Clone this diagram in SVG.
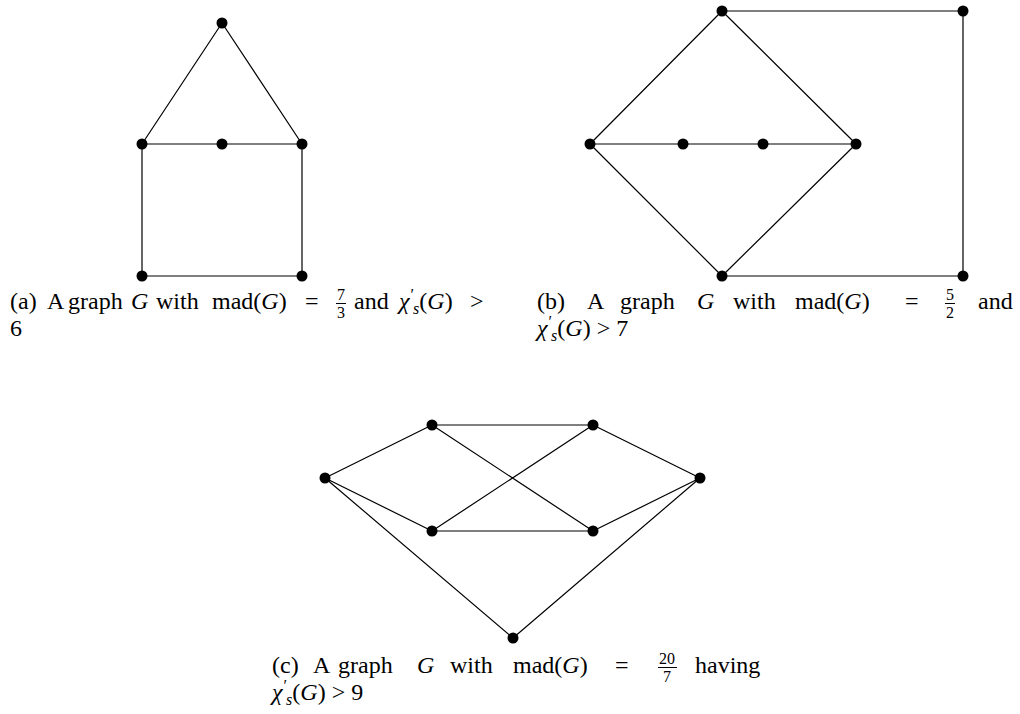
<svg xmlns="http://www.w3.org/2000/svg" width="1020" height="714" viewBox="0 0 1020 714">
<style>
.e{stroke:#000;stroke-width:1.2;fill:none}
.n{fill:#000}
.t{font-family:"Liberation Serif","DejaVu Serif",serif;font-size:24px;fill:#000}
.i{font-style:italic}
.s{font-size:16px}
.fr{stroke:#000;stroke-width:1}
</style>
<rect width="1020" height="714" fill="#fff"/>
<g id="connectors">
<path class="e" d="M222,23L142,144M222,23L302,144M142,144L302,144M142,144L142,276M302,144L302,276M142,276L302,276"/>
<path class="e" d="M722,11L963,11M722,11L590,144M722,11L856,144M963,11L963,276M590,144L856,144M590,144L722,276M856,144L722,276M722,276L963,276"/>
<path class="e" d="M325,478L432,425M325,478L432,531M325,478L513,638M432,425L593,425M432,425L593,531M593,425L432,531M432,531L593,531M593,425L700,478M593,531L700,478M700,478L513,638"/>
</g>
<g id="a-top"><circle class="n" cx="222" cy="23" r="5.5"/></g>
<g id="a-left"><circle class="n" cx="142" cy="144" r="5.5"/></g>
<g id="a-mid"><circle class="n" cx="222" cy="144" r="5.5"/></g>
<g id="a-right"><circle class="n" cx="302" cy="144" r="5.5"/></g>
<g id="a-bl"><circle class="n" cx="142" cy="276" r="5.5"/></g>
<g id="a-br"><circle class="n" cx="302" cy="276" r="5.5"/></g>
<g id="b-top"><circle class="n" cx="722" cy="11" r="5.5"/></g>
<g id="b-tr"><circle class="n" cx="963" cy="11" r="5.5"/></g>
<g id="b-left"><circle class="n" cx="590" cy="144" r="5.5"/></g>
<g id="b-m1"><circle class="n" cx="683" cy="144" r="5.5"/></g>
<g id="b-m2"><circle class="n" cx="763" cy="144" r="5.5"/></g>
<g id="b-right"><circle class="n" cx="856" cy="144" r="5.5"/></g>
<g id="b-bottom"><circle class="n" cx="722" cy="276" r="5.5"/></g>
<g id="b-br"><circle class="n" cx="963" cy="276" r="5.5"/></g>
<g id="c-left"><circle class="n" cx="325" cy="478" r="5.5"/></g>
<g id="c-t1"><circle class="n" cx="432" cy="425" r="5.5"/></g>
<g id="c-t2"><circle class="n" cx="593" cy="425" r="5.5"/></g>
<g id="c-right"><circle class="n" cx="700" cy="478" r="5.5"/></g>
<g id="c-b1"><circle class="n" cx="432" cy="531" r="5.5"/></g>
<g id="c-b2"><circle class="n" cx="593" cy="531" r="5.5"/></g>
<g id="c-bottom"><circle class="n" cx="513" cy="638" r="5.5"/></g>
<g id="caption-a" class="t">
<text x="10" y="309">(a)</text>
<text x="47" y="309">A</text>
<text x="68" y="309">graph</text>
<text x="131" y="309" class="i">G</text>
<text x="156" y="309">with</text>
<text x="212" y="309">mad(<tspan class="i">G</tspan>)</text>
<text x="305" y="309">=</text>
<text x="341" y="300" class="s" text-anchor="middle">7</text>
<line class="fr" x1="336" y1="303.5" x2="346" y2="303.5"/>
<text x="341" y="318" class="s" text-anchor="middle">3</text>
<text x="354" y="309">and</text>
<text x="399" y="309"><tspan class="i">χ</tspan><tspan class="s" dx="1" dy="-9">′</tspan><tspan class="s i" dx="-1" dy="14">s</tspan><tspan dy="-5">(</tspan><tspan class="i">G</tspan>)</text>
<text x="470" y="309">&gt;</text>
<text x="10" y="336">6</text>
</g>
<g id="caption-b" class="t">
<text x="537" y="309">(b)</text>
<text x="587" y="309">A</text>
<text x="620" y="309">graph</text>
<text x="697" y="309" class="i">G</text>
<text x="733" y="309">with</text>
<text x="795" y="309">mad(<tspan class="i">G</tspan>)</text>
<text x="905" y="309">=</text>
<text x="950" y="300" class="s" text-anchor="middle">5</text>
<line class="fr" x1="945" y1="303.5" x2="955" y2="303.5"/>
<text x="950" y="318" class="s" text-anchor="middle">2</text>
<text x="978" y="309">and</text>
<text x="537" y="336"><tspan class="i">χ</tspan><tspan class="s" dx="1" dy="-9">′</tspan><tspan class="s i" dx="-1" dy="14">s</tspan><tspan dy="-5">(</tspan><tspan class="i">G</tspan>) &gt; 7</text>
</g>
<g id="caption-c" class="t">
<text x="272" y="673">(c)</text>
<text x="313" y="673">A</text>
<text x="338" y="673">graph</text>
<text x="417" y="673" class="i">G</text>
<text x="450" y="673">with</text>
<text x="513" y="673">mad(<tspan class="i">G</tspan>)</text>
<text x="615" y="673">=</text>
<text x="667" y="664" class="s" text-anchor="middle">20</text>
<line class="fr" x1="658" y1="667.5" x2="677" y2="667.5"/>
<text x="667" y="682" class="s" text-anchor="middle">7</text>
<text x="695" y="673">having</text>
<text x="272" y="700"><tspan class="i">χ</tspan><tspan class="s" dx="1" dy="-9">′</tspan><tspan class="s i" dx="-1" dy="14">s</tspan><tspan dy="-5">(</tspan><tspan class="i">G</tspan>) &gt; 9</text>
</g>
</svg>
